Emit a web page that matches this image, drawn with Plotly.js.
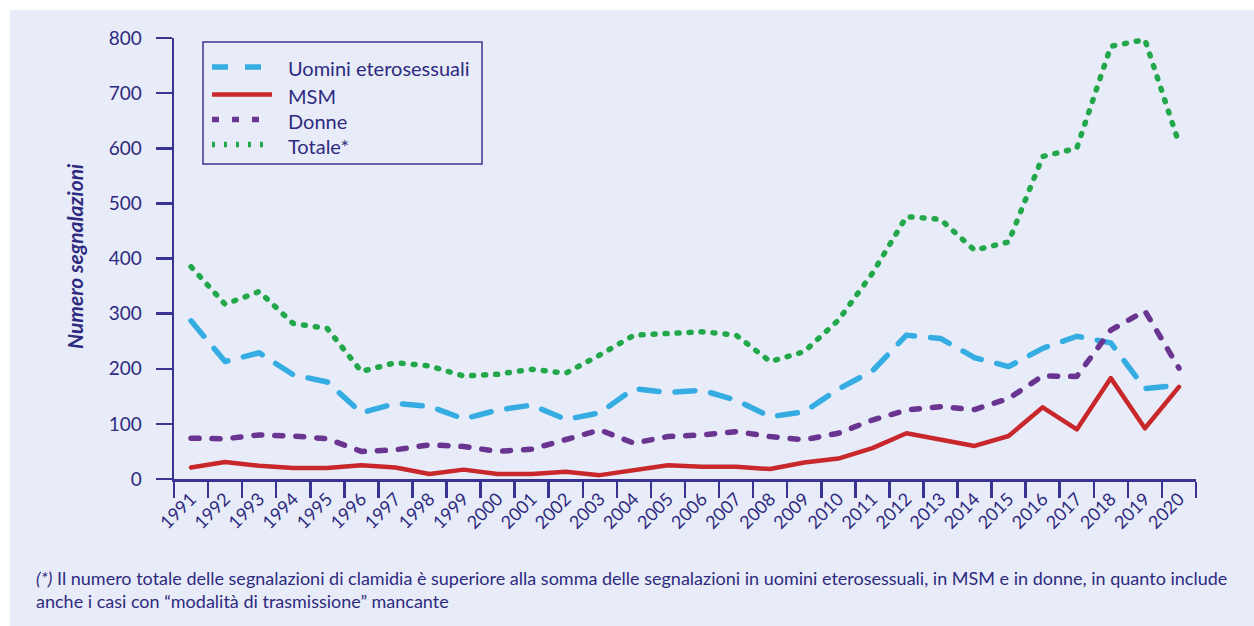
<!DOCTYPE html>
<html>
<head>
<meta charset="utf-8">
<script src="https://cdn.plot.ly/plotly-3.0.1.min.js"></script>
<style>
  html, body { margin: 0; padding: 0; background: #ffffff; }
  #chart { width: 1254px; height: 626px; }
  .scatterlayer .js-line { stroke-linecap: round; stroke-linejoin: round; }
</style>
</head>
<body>
<div id="chart"></div>
<script>
// ---- data ----
const years = ["1991","1992","1993","1994","1995","1996","1997","1998","1999","2000",
               "2001","2002","2003","2004","2005","2006","2007","2008","2009","2010",
               "2011","2012","2013","2014","2015","2016","2017","2018","2019","2020"];
const uomini = [287, 213, 229, 189, 176, 120, 137, 132, 109, 125, 134, 108, 120, 164, 157,
                161, 143, 113, 122, 163, 196, 261, 255, 220, 204, 237, 259, 247, 164, 170];
const msm    = [21, 31, 24, 20, 20, 25, 21, 9, 17, 9, 9, 13, 7, 16, 25,
                22, 22, 18, 30, 37, 56, 83, 72, 60, 78, 130, 90, 183, 92, 167];
const donne  = [74, 73, 80, 78, 73, 50, 53, 62, 59, 50, 54, 71, 89, 65, 77,
                80, 86, 77, 71, 83, 107, 125, 131, 126, 146, 187, 186, 270, 305, 201];
const totale = [385, 317, 340, 282, 273, 195, 211, 205, 187, 190, 199, 192, 225, 261, 264,
                267, 261, 213, 231, 288, 373, 476, 471, 415, 430, 585, 600, 785, 797, 609];
const seriesNames = ["Uomini eterosessuali", "MSM", "Donne", "Totale*"];
const yTicks = [0, 100, 200, 300, 400, 500, 600, 700, 800];
const yTitle = "Numero segnalazioni";
const footnote1 = "<i>(*)</i> Il numero totale delle segnalazioni di clamidia è superiore alla somma delle segnalazioni in uomini eterosessuali, in MSM e in donne, in quanto include";
const footnote2 = "anche i casi con “modalità di trasmissione” mancante";

// ---- styles ----
const NAVY = "#3a3391";
const TEXT = "#2e2a80";
const BG = "#e8ecf8";
const FONT = "Lato, 'Open Sans', sans-serif";
const styles = [
  {color: "#35ace2", width: 5.5, dash: "20px,16px", legendDash: "16px,17px"},
  {color: "#c8282c", width: 4.5, dash: "solid", legendDash: "solid"},
  {color: "#6a3590", width: 5.5, dash: "8px,13px", legendDash: "7px,13px"},
  {color: "#22a84a", width: 5.5, dash: "2px,10px", legendDash: "3px,9px"}
];
const values = [uomini, msm, donne, totale];

// plot area in pixels: left 174, right 1196, top 38, bottom 479
const L = 174, R = 1196, T = 38, B = 479;
const W = 1254, H = 626;
const px2x = p => (p - L) / (R - L);
const py2y = p => (B - p) / (B - T);

const traces = values.map((v, i) => ({
  type: "scatter", mode: "lines", x: years, y: v, name: seriesNames[i],
  line: {color: styles[i].color, width: styles[i].width, dash: styles[i].dash, shape: "linear"},
  hoverinfo: "skip", showlegend: false
}));

const shapes = [
  // lavender background panel
  {type: "rect", xref: "paper", yref: "paper", layer: "below",
   x0: px2x(10), x1: px2x(W + 2), y0: py2y(H + 2), y1: py2y(10),
   fillcolor: BG, line: {width: 0}},
  // legend box
  {type: "rect", xref: "paper", yref: "paper",
   x0: px2x(203), x1: px2x(482), y0: py2y(164), y1: py2y(42),
   fillcolor: "rgba(0,0,0,0)", line: {color: NAVY, width: 1.5}}
];
const annotations = [];
const legendY = [67, 94.5, 119.5, 144.5];
const legendEnd = [262, 272, 264, 270];
seriesNames.forEach((n, i) => {
  shapes.push({type: "line", xref: "paper", yref: "paper",
    x0: px2x(212), x1: px2x(legendEnd[i]), y0: py2y(legendY[i]), y1: py2y(legendY[i]),
    line: {color: styles[i].color, width: styles[i].width, dash: styles[i].legendDash}});
  annotations.push({xref: "paper", yref: "paper", x: px2x(286), y: py2y(legendY[i] + 1),
    xanchor: "left", yanchor: "middle", showarrow: false, text: n,
    font: {family: FONT, size: 20, color: TEXT}});
});
annotations.push({xref: "paper", yref: "paper", x: px2x(34), y: py2y(578),
  xanchor: "left", yanchor: "middle", showarrow: false, text: footnote1, align: "left",
  font: {family: FONT, size: 18, color: TEXT}});
annotations.push({xref: "paper", yref: "paper", x: px2x(34), y: py2y(601),
  xanchor: "left", yanchor: "middle", showarrow: false, text: footnote2, align: "left",
  font: {family: FONT, size: 18, color: TEXT}});
annotations.push({xref: "paper", yref: "paper", x: px2x(75), y: py2y(256),
  xanchor: "center", yanchor: "middle", showarrow: false, textangle: -90,
  text: "<b><i>" + yTitle + "</i></b>",
  font: {family: FONT, size: 21, color: TEXT}});

const layout = {
  width: W, height: H,
  margin: {l: L, r: W - R, t: T, b: H - B, pad: 0},
  paper_bgcolor: "#ffffff", plot_bgcolor: "rgba(0,0,0,0)",
  font: {family: FONT, color: TEXT},
  showlegend: false,
  xaxis: {
    type: "category", range: [-0.5, 29.5], tickson: "boundaries",
    showline: true, linecolor: NAVY, linewidth: 2.5,
    ticks: "outside", ticklen: 16, tickwidth: 2.5, tickcolor: NAVY,
    tickangle: -45, tickfont: {family: FONT, size: 18, color: TEXT},
    showgrid: false, zeroline: false, fixedrange: true
  },
  yaxis: {
    range: [0, 800], tickvals: yTicks, ticktext: yTicks.map(String),
    showline: true, linecolor: NAVY, linewidth: 2.5,
    ticks: "outside", ticklen: 16, tickwidth: 2.5, tickcolor: NAVY,
    tickfont: {family: FONT, size: 19, color: TEXT},
    ticklabelstandoff: 10,
    showgrid: false, zeroline: false, fixedrange: true
  },
  shapes: shapes,
  annotations: annotations
};

Plotly.newPlot("chart", traces, layout, {displayModeBar: false, staticPlot: true});
</script>
</body>
</html>
